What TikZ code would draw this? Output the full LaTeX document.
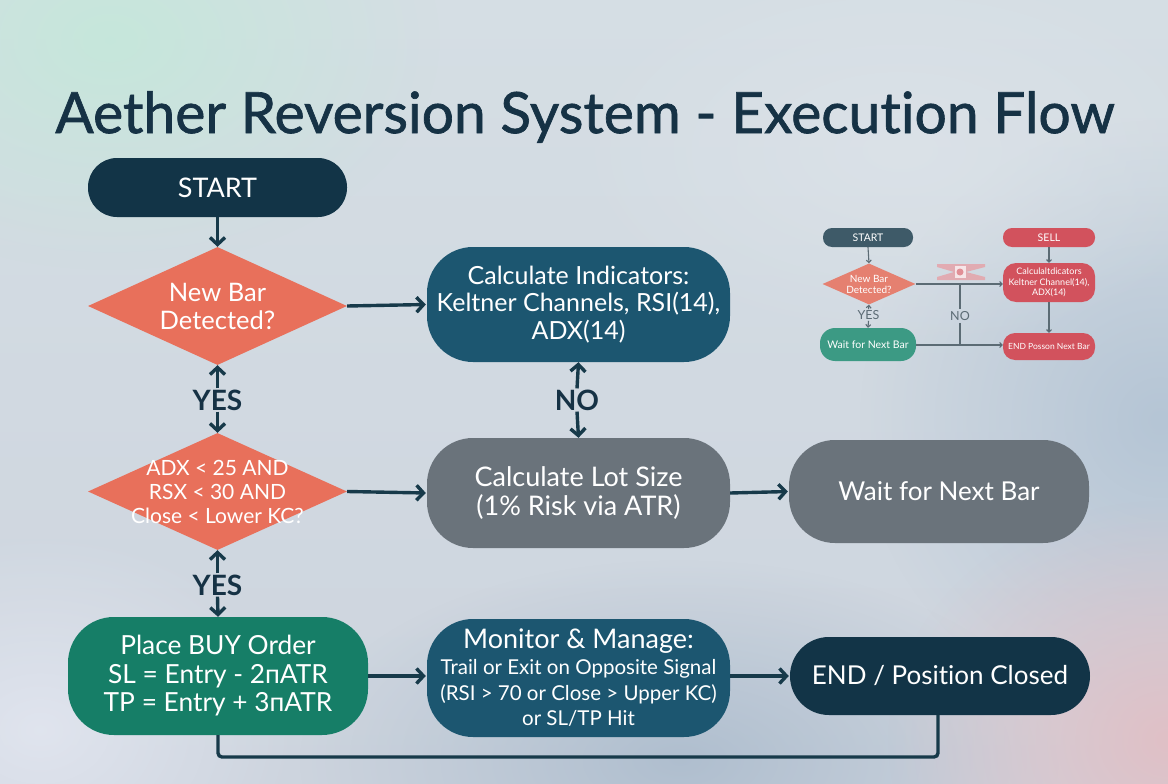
\documentclass[tikz,border=0pt]{standalone}
\usepackage{fontspec}
\setmainfont{Lato}[Ligatures={NoCommon}]
\newfontfamily\titlefont{Lato}[Ligatures={NoCommon},FakeBold=1.2]
\usetikzlibrary{shapes.geometric,arrows.meta,fadings}
\definecolor{navy}{HTML}{123447}
\definecolor{teal}{HTML}{1C5670}
\definecolor{grayb}{HTML}{6A737B}
\definecolor{coral}{HTML}{E8705B}
\definecolor{greenb}{HTML}{167E67}
\definecolor{arrowc}{HTML}{173A4A}
\definecolor{titlec}{HTML}{163245}
\definecolor{islate}{HTML}{3E5A68}
\definecolor{ired}{HTML}{D2525D}
\definecolor{icoral}{HTML}{E58070}
\definecolor{igreen}{HTML}{3C9A84}
\definecolor{iline}{HTML}{5B6B74}
\tikzfading[name=softcirc, inner color=transparent!0, outer color=transparent!100]
\begin{document}
\begin{tikzpicture}[x=1pt,y=-1pt,
  box/.style={rectangle, draw=none, text=white, align=center, inner sep=0pt},
  dia/.style={diamond, fill=coral, draw=none, minimum width=259pt, minimum height=118pt, inner sep=0pt},
  lab/.style={text=white, align=center, inner sep=0pt},
  yn/.style={text=titlec, font=\bfseries\fontsize{28}{30}\selectfont, inner sep=1pt},
  arr/.style={draw=arrowc, line width=3.4pt, -{Straight Barb[length=7pt,width=15pt]}},
  ibox/.style={rectangle, draw=none, text=white, align=center, inner sep=0pt, font=\fontsize{10.5}{12}\selectfont},
  iarr/.style={draw=iline, line width=1.1pt, -{Straight Barb[length=2.5pt,width=5pt]}},
  iln/.style={draw=iline, line width=1.1pt},
  blob/.style={path fading=softcirc}
]
% background
\path[use as bounding box] (0,0) rectangle (1168,784);
\shade[top color={rgb,255:red,213;green,222;blue,228}, bottom color={rgb,255:red,205;green,212;blue,222}] (0,0) rectangle (1168,784);
\fill[blob, color={rgb,255:red,196;green,232;blue,218}, opacity=0.9] (110,40) ellipse (330 and 230);
\fill[blob, color={rgb,255:red,178;green,195;blue,212}, opacity=0.9] (1160,420) ellipse (300 and 300);
\fill[blob, color={rgb,255:red,172;green,188;blue,205}, opacity=0.9] (680,760) ellipse (380 and 200);
\fill[blob, color={rgb,255:red,224;green,192;blue,198}, opacity=1] (1168,740) ellipse (280 and 240);
\fill[blob, color={rgb,255:red,226;green,230;blue,240}, opacity=0.9] (40,730) ellipse (260 and 200);
\fill[blob, color={rgb,255:red,222;green,228;blue,234}, opacity=0.7] (900,150) ellipse (350 and 200);

% title
\node[text=titlec, inner sep=0pt, font=\titlefont\fontsize{57}{62}\selectfont] (title) at (585,117) {Aether Reversion System - Execution Flow};

% main nodes
\node[box, fill=navy, minimum width=259pt, minimum height=59pt, rounded corners=29pt, font=\fontsize{27}{30}\selectfont] (start) at (217.5,187.5) {START};
\node[dia, label={[lab, font=\fontsize{25.5}{28}\selectfont]center:New Bar\\Detected?}] (d1) at (217.5,306) {};
\node[box, fill=teal, minimum width=303pt, minimum height=115pt, rounded corners=46pt, font=\fontsize{25}{27.5}\selectfont] (ind) at (578.5,304.5) {Calculate Indicators:\\Keltner Channels, RSI(14),\\ADX(14)};
\node[dia, minimum height=117pt, label={[lab, font=\fontsize{21}{24}\selectfont]center:ADX < 25 AND\\RSX < 30 AND\\Close < Lower KC?}] (d2) at (217.5,491.5) {};
\node[box, fill=grayb, minimum width=303pt, minimum height=110pt, rounded corners=46pt, font=\fontsize{27}{28.5}\selectfont] (lot) at (578.5,493) {Calculate Lot Size\\(1\% Risk via ATR)};
\node[box, fill=grayb, minimum width=300pt, minimum height=103pt, rounded corners=46pt, font=\fontsize{26}{28}\selectfont] (wait) at (939,491.5) {Wait for Next Bar};
\node[box, fill=greenb, minimum width=300pt, minimum height=118pt, rounded corners=46pt, font=\fontsize{26.3}{28.5}\selectfont] (buy) at (218,676) {Place BUY Order\\SL = Entry - 2пATR\\TP = Entry + 3пATR};
\node[box, fill=teal, minimum width=303pt, minimum height=118pt, rounded corners=46pt, font=\fontsize{20.5}{24}\selectfont] (mon) at (578.5,678) {{\fontsize{27}{25}\selectfont Monitor \& Manage:}\\[2pt]Trail or Exit on Opposite Signal\\[1.5pt](RSI > 70 or Close > Upper KC)\\[1.5pt]or SL/TP Hit};
\node[box, fill=navy, minimum width=300pt, minimum height=78pt, rounded corners=39pt, font=\fontsize{26}{28}\selectfont] (end) at (940,676) {END / Position Closed};

% labels
\node[yn] (yes1) at (217.5,400) {YES};
\node[yn] (yes2) at (217.5,585) {YES};
\node[yn] (no1) at (577,400) {NO};

% connectors
\draw[arr] (start.south) -- (d1.north);
\draw[arr, shorten >=1pt] (d1.east) -- (ind.west);
\draw[arr] (yes1.north) -- (d1.south);
\draw[arr] (yes1.south) -- (d2.north);
\draw[arr] (no1.north) -- (ind.south);
\draw[arr] (no1.south) -- (lot.north);
\draw[arr, shorten >=1pt] (d2.east) -- (lot.west);
\draw[arr, shorten >=1pt] (lot.east) -- (wait.west);
\draw[arr] (yes2.north) -- (d2.south);
\draw[arr] (yes2.south) -- (buy.north);
\draw[arr, shorten >=1pt] (buy.east) -- (mon.west |- buy.east);
\draw[arr, shorten >=1pt] (mon.east |- end.west) -- (end.west);
\coordinate (loopL) at (218,757);
\coordinate (loopR) at (938,757);
\draw[draw=arrowc, line width=3.4pt, rounded corners=4pt] (buy.south) -- (loopL) -- (loopR) -- (end.south -| loopR);

% inset flowchart
\node[ibox, fill=islate, minimum width=90pt, minimum height=19pt, rounded corners=9pt] (istart) at (868,237.5) {START};
\node[ibox, fill=ired, minimum width=92pt, minimum height=19pt, rounded corners=9pt] (isell) at (1049,237.5) {SELL};
\node[diamond, fill=icoral, draw=none, minimum width=93pt, minimum height=41pt, inner sep=0pt, label={[text=white, align=center, inner sep=0pt, font=\fontsize{10}{11}\selectfont]center:New Bar\\Detected?}] (idia) at (869,284) {};
\node[ibox, fill=ired, minimum width=92pt, minimum height=39pt, rounded corners=13pt, font=\fontsize{9}{10.5}\selectfont] (icalc) at (1049,282.5) {Calculaltdicators\\Keltner Channel(14),\\ADX(14)};
\node[ibox, fill=igreen, minimum width=96pt, minimum height=33pt, rounded corners=15pt] (iwait) at (868,344.5) {Wait for Next Bar};
\node[ibox, fill=ired, minimum width=92pt, minimum height=27pt, rounded corners=12pt, font=\fontsize{8.5}{10}\selectfont] (iend) at (1049,346.5) {END Posson Next Bar};
\node[text=iline, inner sep=1pt, font=\fontsize{12.5}{13}\selectfont] (iyes) at (868.5,315) {YES};
\node[text=iline, inner sep=2pt, font=\fontsize{12.5}{13}\selectfont] (ino) at (960,316) {NO};
\coordinate (ij1) at (960,284);
\coordinate (ij2) at (960,345);
\draw[iarr] (istart.south) -- (idia.north);
\draw[iarr] (idia.east) -- (icalc.west |- idia.east);
\draw[iarr] (isell.south) -- (icalc.north);
\draw[iarr] (icalc.south) -- (iend.north);
\draw[iarr] (iwait.east |- ij2) -- (iend.west |- ij2);
\draw[iln] (ij1) -- (ino.north);
\draw[iln] (ino.south) -- (ij2);
\draw[iarr] (iyes.north) -- (idia.south);
\draw[iarr] (iyes.south) -- (iwait.north);
% small garbled icon
\coordinate (icon) at (960,272);
\fill[ired!55, opacity=0.8] (937,264) -- (985,264) -- (985,267) -- (966,272) -- (985,277) -- (985,280) -- (937,280) -- (937,277) -- (954,272) -- (937,267) -- cycle;
\fill[white, opacity=0.7] (955,266) rectangle (966,278);
\fill[ired!70, opacity=0.9] (icon) circle (3.5pt);
\end{tikzpicture}
\end{document}
